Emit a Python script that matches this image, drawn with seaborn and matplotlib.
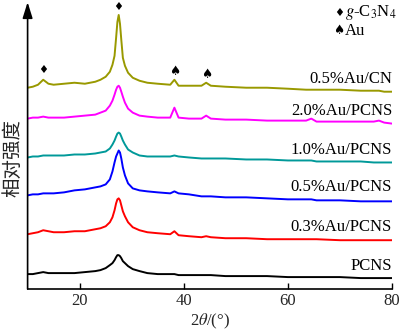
import numpy as np
import pandas as pd
import matplotlib
matplotlib.use("Agg")
import matplotlib.pyplot as plt
import seaborn as sns

two_theta = [10, 11, 12, 13, 14, 15, 17, 19, 21,
             23, 24, 25, 25.8, 26.3, 26.7, 27.0, 27.25, 27.5, 27.75, 28.0, 28.3, 28.7, 29.3, 30.2, 31.5, 33,
             35, 37.4, 38.2, 39, 41, 43.4, 44.3, 45.2, 48, 52, 56, 60,
             63.5, 64.5, 65.5, 70, 74, 76.5, 77.5, 78.5, 80]

pcns = [15, 15, 16, 17, 16, 16, 16, 16, 17,
        18, 19, 21, 24, 26, 29, 32, 34, 34, 33, 31, 28, 26, 23, 20, 18, 16,
        15, 15, 15, 14, 14, 14, 14, 14, 13, 13, 13, 12,
        12, 12, 12, 12, 11, 11, 11, 11, 11]
au03 = [55, 56, 57, 59, 58, 57, 57, 58, 58,
        60, 61, 63, 67, 72, 79, 86, 90, 91, 89, 84, 78, 73, 67, 62, 59, 57,
        56, 55, 58, 54, 53, 52, 53, 52, 51, 51, 50, 50,
        50, 50, 50, 49, 49, 49, 49, 49, 49]
au05 = [94, 95, 95, 96, 96, 96, 97, 99, 100,
        102, 103, 105, 110, 118, 127, 133, 136, 139, 137, 131, 122, 114, 106, 101, 99, 98,
        97, 96, 98, 96, 95, 93, 93, 93, 92, 92, 91, 90,
        90, 90, 89, 89, 88, 88, 88, 88, 88]
au10 = [132, 133, 133, 134, 134, 134, 134, 135, 135,
        136, 137, 138, 141, 145, 149, 153, 156, 157, 156, 153, 149, 145, 140, 137, 134, 133,
        133, 133, 134, 133, 132, 131, 131, 131, 131, 130, 130, 129,
        129, 129, 128, 128, 128, 127, 127, 127, 127]
au20 = [171, 172, 172, 173, 172, 172, 172, 173, 174,
        175, 177, 179, 184, 189, 195, 200, 203, 204, 202, 198, 193, 187, 181, 177, 174, 173,
        172, 172, 182, 172, 171, 171, 174, 171, 170, 170, 169, 169,
        169, 171, 168, 168, 168, 168, 169, 167, 166]
au05cn = [202, 203, 205, 210, 206, 205, 206, 207, 206,
          208, 210, 213, 218, 225, 234, 252, 268, 275, 266, 250, 232, 224, 217, 212, 209, 207,
          206, 205, 210, 204, 204, 204, 207, 204, 203, 202, 202, 201,
          200, 200, 200, 200, 199, 199, 199, 198, 198]

series_names = ["PCNS", "0.3%Au/PCNS", "0.5%Au/PCNS", "1.0%Au/PCNS", "2.0%Au/PCNS", "0.5%Au/CN"]
series_values = [pcns, au03, au05, au10, au20, au05cn]
series_colors = ["#000000", "#ff0000", "#0000ff", "#009999", "#ff00ff", "#999900"]
label_y = [23, 62, 102, 140, 179, 211]

gcn_marks_x = [13, 27.4]
gcn_marks_y = [220, 283]
au_marks_x = [38.2, 44.3]
au_marks_y = [218, 215]

for v in series_values:
    assert len(v) == len(two_theta)

sns.set_theme(style="white")
plt.rcParams['font.family'] = ['Liberation Serif', 'Noto Sans CJK SC', 'DejaVu Sans']
plt.rcParams['mathtext.fontset'] = 'stix'

fig = plt.figure(figsize=(4.0, 3.33), dpi=100)
ax = fig.add_axes([0.069, 0.132, 0.911, 0.853])

rows = []
for name, vals in zip(series_names, series_values):
    for x, y in zip(two_theta, vals):
        rows.append({"x": x, "y": y, "s": name})
df = pd.DataFrame(rows)

sns.lineplot(data=df, x="x", y="y", hue="s", palette=dict(zip(series_names, series_colors)),
             linewidth=1.4, legend=False, ax=ax, sort=False)

for name, ly in zip(series_names, label_y):
    ax.text(80, ly, name, ha="right", va="center", fontsize=12, color="black")

for x, y in zip(gcn_marks_x, gcn_marks_y):
    ax.text(x, y, "\u2666", ha="center", va="center", fontsize=8, family="DejaVu Sans", color="black")
for x, y in zip(au_marks_x, au_marks_y):
    ax.text(x, y, "\u2660", ha="center", va="center", fontsize=9, family="DejaVu Sans", color="black")

ax.text(69.8, 277, "\u2666", ha="center", va="center", fontsize=8, family="DejaVu Sans", color="black")
ax.text(71.0, 277, "$g$-C$_3$N$_4$", ha="left", va="center", fontsize=12, color="black")
ax.text(69.8, 259, "\u2660", ha="center", va="center", fontsize=9, family="DejaVu Sans", color="black")
ax.text(71.0, 259, "Au", ha="left", va="center", fontsize=12, color="black")

ax.set_xlim(10, 80)
ax.set_ylim(0, 285)
ax.set_xticks([20, 40, 60, 80])
ax.set_xticklabels(["20", "40", "60", "80"], fontsize=12)
ax.set_yticks([])
ax.tick_params(axis="x", direction="in", length=4, width=1, color="black", pad=3, bottom=True)
for s in ["top", "right", "left"]:
    ax.spines[s].set_visible(False)
ax.spines["bottom"].set_color("black")
ax.spines["bottom"].set_linewidth(1.2)

ax.annotate("", xy=(0, 1.01), xytext=(0, 0), xycoords="axes fraction",
            arrowprops=dict(arrowstyle="-|>,head_length=0.8,head_width=0.25", color="black", lw=1.2,
                            shrinkA=0, shrinkB=0), annotation_clip=False)

ax.set_xlabel("2$\\theta$/(°)", fontsize=12, labelpad=2)
ax.set_ylabel("相对强度", fontsize=14, labelpad=3, family=['Noto Sans CJK SC', 'DejaVu Sans'])
ax.yaxis.set_label_coords(-0.012, 0.46)

fig.savefig("out.png", dpi=100)
